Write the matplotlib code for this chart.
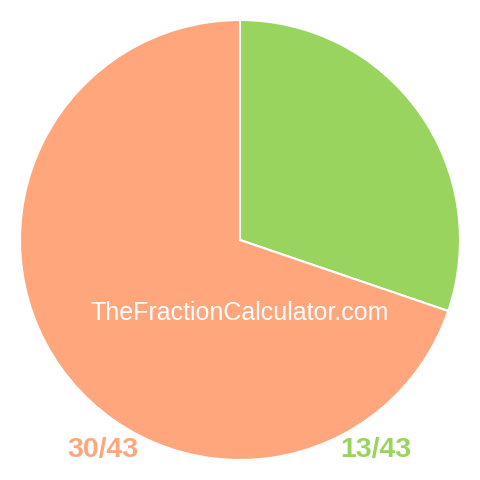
import matplotlib
matplotlib.use("Agg")
import matplotlib.pyplot as plt

labels = ["13/43", "30/43"]
values = [13, 30]
colors = ["#99d45f", "#ffa67c"]

plt.rcParams['font.family'] = ['Liberation Sans', 'DejaVu Sans']

fig = plt.figure(figsize=(4.8, 4.8), dpi=100)
ax = fig.add_axes([0, 0, 1, 1])
ax.pie(values, colors=colors, startangle=90, counterclock=False,
       radius=1.0, wedgeprops=dict(edgecolor="white", linewidth=1.5))
lim = 240 / 220
ax.set_xlim(-lim, lim)
ax.set_ylim(-lim, lim)
ax.set_aspect("equal")
ax.axis("off")

ax.text(0, (240 - 313) / 220, "TheFractionCalculator.com", color="white",
        fontsize=18, ha="center", va="center")

# fraction labels below the pie
ax.text((103 - 240) / 220, (240 - 450) / 220, labels[1], color=colors[1],
        fontsize=20.5, fontweight="bold", ha="center", va="center")
ax.text((376 - 240) / 220, (240 - 450) / 220, labels[0], color=colors[0],
        fontsize=20.5, fontweight="bold", ha="center", va="center")

fig.savefig("out.png", dpi=100)
